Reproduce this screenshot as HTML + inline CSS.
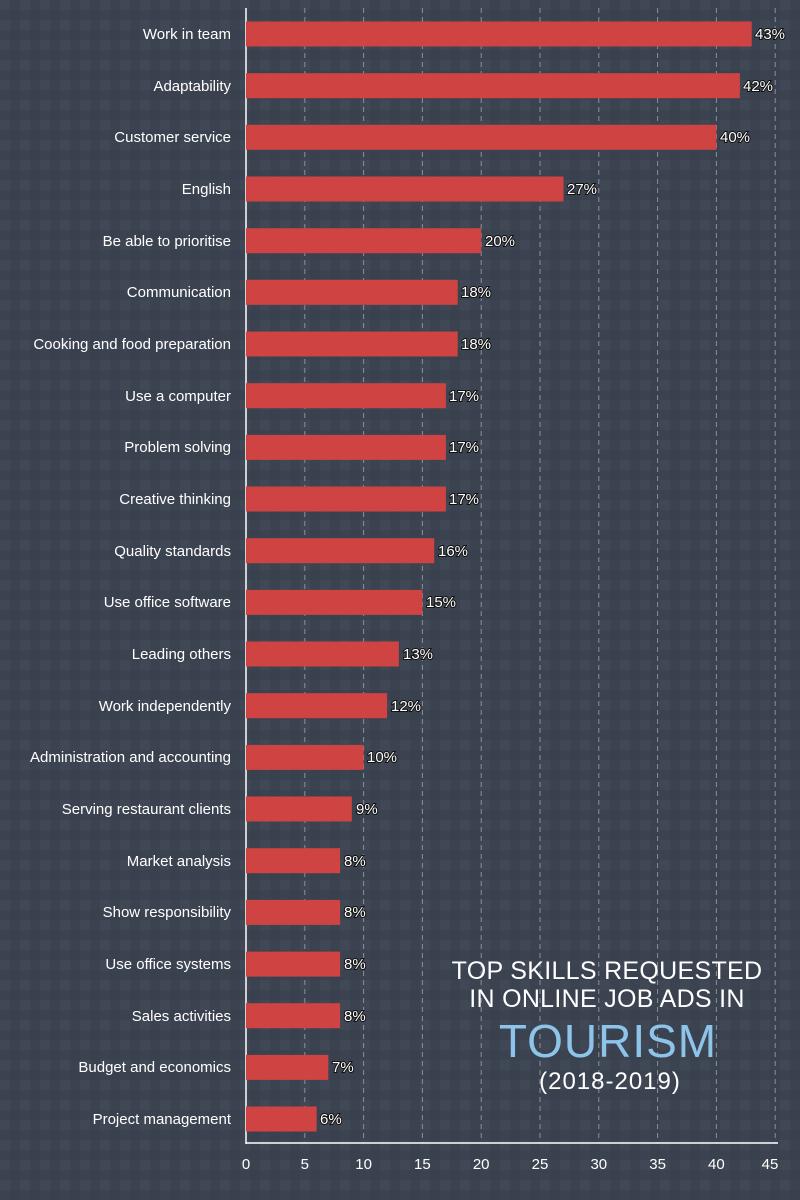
<!DOCTYPE html>
<html><head><meta charset="utf-8"><style>
html,body{margin:0;padding:0;background:#3c4350;}
svg{display:block;font-family:"Liberation Sans",sans-serif;}
</style></head><body>
<svg width="800" height="1200" xmlns="http://www.w3.org/2000/svg">
<defs>
<pattern id="p" width="20" height="20" patternUnits="userSpaceOnUse">
<rect width="20" height="20" fill="#3c4350"/>
<rect width="10" height="10" fill="#404755"/>
<rect x="10" y="10" width="10" height="10" fill="#3a414e"/>
</pattern>
</defs>
<rect width="800" height="1200" fill="url(#p)"/>
<g stroke="#8a909a" stroke-width="1" stroke-dasharray="5,4">
<line x1="304.8" y1="8" x2="304.8" y2="1143"/>
<line x1="363.6" y1="8" x2="363.6" y2="1143"/>
<line x1="422.4" y1="8" x2="422.4" y2="1143"/>
<line x1="481.2" y1="8" x2="481.2" y2="1143"/>
<line x1="540" y1="8" x2="540" y2="1143"/>
<line x1="598.8" y1="8" x2="598.8" y2="1143"/>
<line x1="657.6" y1="8" x2="657.6" y2="1143"/>
<line x1="716.4" y1="8" x2="716.4" y2="1143"/>
<line x1="775.2" y1="8" x2="775.2" y2="1143"/>
</g>
<line x1="246" y1="8" x2="246" y2="1144" stroke="#fff" stroke-width="1.5"/>
<line x1="246" y1="1143" x2="778" y2="1143" stroke="#fff" stroke-width="1.5"/>
<g fill="#fff" font-size="15" text-anchor="middle">
<text x="246" y="1169">0</text><text x="304.8" y="1169">5</text><text x="363.6" y="1169">10</text>
<text x="422.4" y="1169">15</text><text x="481.2" y="1169">20</text><text x="540" y="1169">25</text>
<text x="598.8" y="1169">30</text><text x="657.6" y="1169">35</text><text x="716.4" y="1169">40</text>
<text x="770" y="1169">45</text>
</g>
<g fill="#cf4443">
<rect x="246" y="21.5" width="505.7" height="25"/>
<rect x="246" y="73.2" width="493.9" height="25"/>
<rect x="246" y="124.8" width="470.4" height="25"/>
<rect x="246" y="176.5" width="317.5" height="25"/>
<rect x="246" y="228.2" width="235.2" height="25"/>
<rect x="246" y="279.8" width="211.7" height="25"/>
<rect x="246" y="331.5" width="211.7" height="25"/>
<rect x="246" y="383.2" width="199.9" height="25"/>
<rect x="246" y="434.9" width="199.9" height="25"/>
<rect x="246" y="486.5" width="199.9" height="25"/>
<rect x="246" y="538.2" width="188.2" height="25"/>
<rect x="246" y="589.9" width="176.4" height="25"/>
<rect x="246" y="641.5" width="152.9" height="25"/>
<rect x="246" y="693.2" width="141.1" height="25"/>
<rect x="246" y="744.9" width="117.6" height="25"/>
<rect x="246" y="796.5" width="105.8" height="25"/>
<rect x="246" y="848.2" width="94.1" height="25"/>
<rect x="246" y="899.9" width="94.1" height="25"/>
<rect x="246" y="951.6" width="94.1" height="25"/>
<rect x="246" y="1003.2" width="94.1" height="25"/>
<rect x="246" y="1054.9" width="82.3" height="25"/>
<rect x="246" y="1106.5" width="70.6" height="25"/>
</g>
<g fill="#fff" font-size="15" text-anchor="end">
<text x="231" y="39">Work in team</text>
<text x="231" y="91">Adaptability</text>
<text x="231" y="142">Customer service</text>
<text x="231" y="194">English</text>
<text x="231" y="246">Be able to prioritise</text>
<text x="231" y="297">Communication</text>
<text x="231" y="349">Cooking and food preparation</text>
<text x="231" y="401">Use a computer</text>
<text x="231" y="452">Problem solving</text>
<text x="231" y="504">Creative thinking</text>
<text x="231" y="556">Quality standards</text>
<text x="231" y="607">Use office software</text>
<text x="231" y="659">Leading others</text>
<text x="231" y="711">Work independently</text>
<text x="231" y="762">Administration and accounting</text>
<text x="231" y="814">Serving restaurant clients</text>
<text x="231" y="866">Market analysis</text>
<text x="231" y="917">Show responsibility</text>
<text x="231" y="969">Use office systems</text>
<text x="231" y="1021">Sales activities</text>
<text x="231" y="1072">Budget and economics</text>
<text x="231" y="1124">Project management</text>
</g>
<g fill="#fff" font-size="15" stroke="#111" stroke-width="2" paint-order="stroke">
<text x="755" y="39">43%</text>
<text x="743" y="91">42%</text>
<text x="720" y="142">40%</text>
<text x="567" y="194">27%</text>
<text x="485" y="246">20%</text>
<text x="461" y="297">18%</text>
<text x="461" y="349">18%</text>
<text x="449" y="401">17%</text>
<text x="449" y="452">17%</text>
<text x="449" y="504">17%</text>
<text x="438" y="556">16%</text>
<text x="426" y="607">15%</text>
<text x="403" y="659">13%</text>
<text x="391" y="711">12%</text>
<text x="367" y="762">10%</text>
<text x="356" y="814">9%</text>
<text x="344" y="866">8%</text>
<text x="344" y="917">8%</text>
<text x="344" y="969">8%</text>
<text x="344" y="1021">8%</text>
<text x="332" y="1072">7%</text>
<text x="320" y="1124">6%</text>
</g>
<g text-anchor="middle" fill="#fff">
<text x="607" y="979" font-size="25" letter-spacing="0.3">TOP SKILLS REQUESTED</text>
<text x="607" y="1007" font-size="25" letter-spacing="0.3">IN ONLINE JOB ADS IN</text>
<text x="608" y="1057" font-size="46" fill="#8ec3ea" letter-spacing="1">TOURISM</text>
<text x="610" y="1089" font-size="24" letter-spacing="1">(2018-2019)</text>
</g>
</svg>
</body></html>
